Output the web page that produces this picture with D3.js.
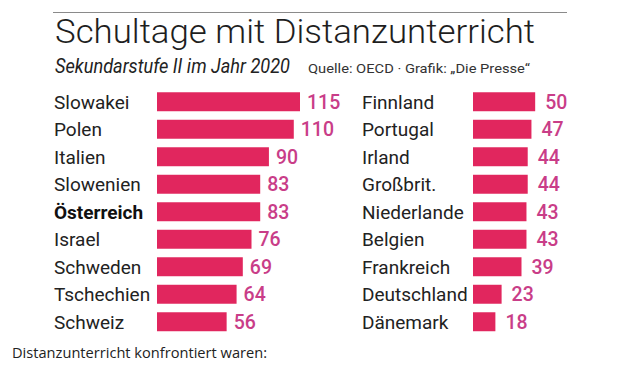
<!DOCTYPE html>
<html>
<head>
<meta charset="utf-8">
<script src="https://cdn.jsdelivr.net/npm/d3@7"></script>
<style>
  html, body { margin: 0; padding: 0; background: #fff; }
  svg { display: block; }
</style>
</head>
<body>
<svg id="chart" width="642" height="366"></svg>
<script>
const leftCountries = ["Slowakei", "Polen", "Italien", "Slowenien", "Österreich", "Israel", "Schweden", "Tschechien", "Schweiz"];
const leftValues = [115, 110, 90, 83, 83, 76, 69, 64, 56];
const rightCountries = ["Finnland", "Portugal", "Irland", "Großbrit.", "Niederlande", "Belgien", "Frankreich", "Deutschland", "Dänemark"];
const rightValues = [50, 47, 44, 44, 43, 43, 39, 23, 18];
const highlight = ["Österreich"];

const titleText = "Schultage mit Distanzunterricht";
const subtitleText = "Sekundarstufe II im Jahr 2020";
const sourceText = "Quelle: OECD · Grafik: „Die Presse“";
const footerText = "Distanzunterricht konfrontiert waren:";

const svg = d3.select("#chart");
const barColor = "#e1265e";
const valueColor = "#c93d88";
const labelColor = "#222";
const font = "Roboto, 'Liberation Sans', Arial, sans-serif";

// header
svg.append("line")
  .attr("x1", 53).attr("x2", 567).attr("y1", 12.5).attr("y2", 12.5)
  .attr("stroke", "#8a8a8a").attr("stroke-width", 1);

svg.append("text")
  .attr("x", 55).attr("y", 43)
  .attr("font-family", font).attr("font-weight", 300)
  .attr("font-size", 33).attr("fill", "#1e1e1e")
  .attr("textLength", 480).attr("lengthAdjust", "spacingAndGlyphs")
  .text(titleText);

svg.append("text")
  .attr("x", 55).attr("y", 73)
  .attr("font-family", font).attr("font-style", "italic")
  .attr("font-size", 21).attr("fill", "#222")
  .attr("textLength", 235).attr("lengthAdjust", "spacingAndGlyphs")
  .text(subtitleText);

svg.append("text")
  .attr("x", 308).attr("y", 73)
  .attr("font-family", font)
  .attr("font-size", 13).attr("fill", "#333")
  .attr("textLength", 222).attr("lengthAdjust", "spacingAndGlyphs")
  .text(sourceText);

svg.append("text")
  .attr("x", 12).attr("y", 358)
  .attr("font-family", "'Open Sans', 'Noto Sans', sans-serif")
  .attr("font-size", 15).attr("fill", "#222")
  .attr("textLength", 255).attr("lengthAdjust", "spacingAndGlyphs")
  .text(footerText);

// scales
const x = d3.scaleLinear().domain([0, 115]).range([0, 143]);

function panel(names, values, labelX, barX, gap) {
  const y = d3.scaleBand().domain(names).range([88, 335.5])
    .paddingInner(0.31).paddingOuter(0.155);
  const g = svg.append("g");
  const rows = g.selectAll("g.row").data(names.map((n, i) => ({ name: n, value: values[i] })))
    .join("g").attr("class", "row");

  rows.append("rect")
    .attr("x", barX)
    .attr("y", d => y(d.name))
    .attr("width", d => x(d.value))
    .attr("height", y.bandwidth())
    .attr("fill", barColor);

  rows.append("text")
    .attr("x", labelX)
    .attr("y", d => y(d.name) + y.bandwidth() / 2)
    .attr("dy", "0.36em")
    .attr("font-family", font)
    .attr("font-size", 19)
    .attr("font-weight", d => highlight.includes(d.name) ? 700 : 400)
    .attr("fill", d => highlight.includes(d.name) ? "#111" : labelColor)
    .text(d => d.name);

  rows.append("text")
    .attr("x", d => barX + x(d.value) + gap)
    .attr("y", d => y(d.name) + y.bandwidth() / 2)
    .attr("dy", "0.36em")
    .attr("font-family", font)
    .attr("font-size", 19.5)
    .attr("font-weight", 500)
    .attr("fill", valueColor)
    .text(d => d.value);
}

panel(leftCountries, leftValues, 54, 157, 7);
panel(rightCountries, rightValues, 362, 473, 10);
</script>
</body>
</html>
